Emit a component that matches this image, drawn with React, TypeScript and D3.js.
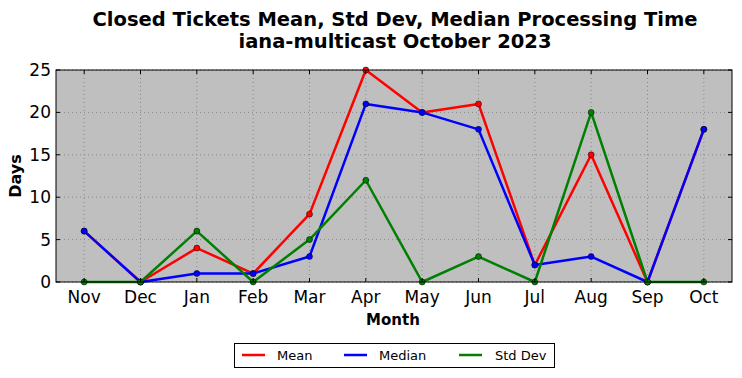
import React from "react";
import * as d3 from "d3";

const months = ["Nov", "Dec", "Jan", "Feb", "Mar", "Apr", "May", "Jun", "Jul", "Aug", "Sep", "Oct"];
const meanValues = [6, 0, 4, 1, 8, 25, 20, 21, 2, 15, 0, 18];
const medianValues = [6, 0, 1, 1, 3, 21, 20, 18, 2, 3, 0, 18];
const stdValues = [0, 0, 6, 0, 5, 12, 0, 3, 0, 20, 0, 0];
const yTicks = [0, 5, 10, 15, 20, 25];

const series = [
  { name: "Mean", color: "#ff0000", values: meanValues },
  { name: "Median", color: "#0000ff", values: medianValues },
  { name: "Std Dev", color: "#008000", values: stdValues },
];

export default function App() {
  const W = 742, H = 378;
  const left = 56, right = 732, top = 70, bottom = 282;
  const x = d3.scalePoint<string>().domain(months).range([left, right]).padding(0.5);
  const y = d3.scaleLinear().domain([0, 25]).range([bottom, top]);
  const line = d3.line<number>().x((_, i) => x(months[i])!).y((v) => y(v));
  const font = "DejaVu Sans, sans-serif";
  const legendItems = [
    { lx: 242, tx: 277 },
    { lx: 344, tx: 379 },
    { lx: 459, tx: 495 },
  ];
  return (
    <svg width={W} height={H} style={{ position: "absolute", left: 0, top: 0 }} fontFamily={font}>
      <rect x={0} y={0} width={W} height={H} fill="#ffffff" />
      <text x={395} y={26} textAnchor="middle" fontSize={19.5} fontWeight="bold">Closed Tickets Mean, Std Dev, Median Processing Time</text>
      <text x={395} y={48} textAnchor="middle" fontSize={19.5} fontWeight="bold">iana-multicast October 2023</text>
      <rect x={left} y={top} width={right - left} height={bottom - top} fill="#bfbfbf" />
      {months.map((m) => (
        <line key={"gx" + m} x1={x(m)} x2={x(m)} y1={top} y2={bottom} stroke="#888" strokeWidth={1} strokeDasharray="1,3" />
      ))}
      {yTicks.map((t) => (
        <line key={"gy" + t} x1={left} x2={right} y1={y(t)} y2={y(t)} stroke="#888" strokeWidth={1} strokeDasharray="1,3" />
      ))}
      {series.map((s) => (
        <g key={s.name}>
          <path d={line(s.values) || ""} fill="none" stroke={s.color} strokeWidth={2.5} strokeLinejoin="round" />
          {s.values.map((v, i) => (
            <circle key={i} cx={x(months[i])} cy={y(v)} r={3} fill={s.color} stroke="#000" strokeWidth={0.5} />
          ))}
        </g>
      ))}
      <rect x={left} y={top} width={right - left} height={bottom - top} fill="none" stroke="#000" strokeWidth={1} />
      {yTicks.map((t) => (
        <g key={"ty" + t}>
          <line x1={left} x2={left + 4} y1={y(t)} y2={y(t)} stroke="#000" />
          <line x1={right} x2={right - 4} y1={y(t)} y2={y(t)} stroke="#000" />
          <text x={51} y={y(t) + 6} textAnchor="end" fontSize={17}>{t}</text>
        </g>
      ))}
      {months.map((m) => (
        <g key={"tx" + m}>
          <line x1={x(m)} x2={x(m)} y1={bottom} y2={bottom - 4} stroke="#000" />
          <line x1={x(m)} x2={x(m)} y1={top} y2={top + 4} stroke="#000" />
          <text x={x(m)} y={303} textAnchor="middle" fontSize={17}>{m}</text>
        </g>
      ))}
      <text x={393} y={325} textAnchor="middle" fontSize={15} fontWeight="bold">Month</text>
      <text transform={`translate(21,${(top + bottom) / 2}) rotate(-90)`} textAnchor="middle" fontSize={16} fontWeight="bold">Days</text>
      <rect x={234.5} y={343.5} width={320} height={24} fill="#fff" stroke="#000" strokeWidth={1} />
      {series.map((s, i) => (
        <g key={"lg" + s.name}>
          <line x1={legendItems[i].lx} x2={legendItems[i].lx + 23} y1={355} y2={355} stroke={s.color} strokeWidth={2.5} />
          <text x={legendItems[i].tx} y={360} fontSize={13}>{s.name}</text>
        </g>
      ))}
    </svg>
  );
}
